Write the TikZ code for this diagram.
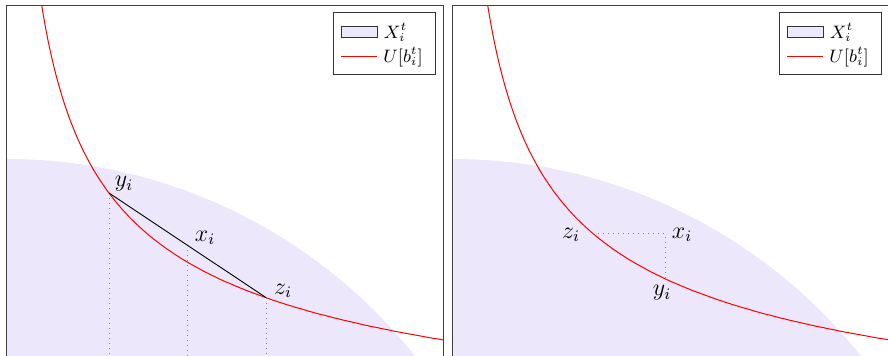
\documentclass[tikz,border=0pt]{standalone}
\usetikzlibrary{calc, positioning}
\definecolor{lavender}{RGB}{236,231,250}
\tikzset{panelline/.style={draw=black!75, line width=0.5pt},
regionfill/.style={fill=lavender},
utilline/.style={red, line width=0.5pt},
chordline/.style={black, line width=0.45pt},
guideline/.style={gray, dotted, line width=0.5pt},
ptlabel/.style={inner sep=0pt, font=\large},
legendbox/.style={draw=black!80, line width=0.5pt, minimum width=51pt, minimum height=31pt, inner sep=0pt},
swatch/.style={draw=black!80, fill=lavender, line width=0.5pt, minimum width=18pt, minimum height=5.5pt, inner sep=0pt},
legendtext/.style={inner sep=0pt, font=\small}}
\begin{document}
\begin{tikzpicture}[x=0.5pt, y=0.5pt,
        declare function={ucurve(\u)=2471*pow(\u,-0.45)-144;}
    ]
        \useasboundingbox (0,0) rectangle (888,356);
        \coordinate (floor) at (0,0);
        % Left panel: region and curve
        \begin{scope}
            \clip (6,0) rectangle (443,350);
            \fill[regionfill] (6,-326) circle (523);
            \draw[utilline] plot[domain=34:437, samples=150] ({6+\x}, {ucurve(\x)});
        \end{scope}
        % Left panel: points
        \coordinate (yiA) at (109, {ucurve(103)});
        \coordinate (ziA) at (266, {ucurve(260)});
        \coordinate (xiA) at ($(yiA)!0.5!(ziA)$);
        \foreach \p in {yiA, xiA, ziA} {
            \draw[guideline] (\p) -- (\p |- floor);
        }
        \draw[chordline] (yiA) -- (ziA);
        \node[ptlabel] (lyiA) at (124,172) {$y_i$};
        \node[ptlabel] (lxiA) at (205,118) {$x_i$};
        \node[ptlabel] (lziA) at (283,65) {$z_i$};
        % Left panel: frame
        \draw[panelline] (6,-10) -- (6,350) -- (443,350) -- (443,-10);
        % Left panel: legend
        \node[legendbox, fill=white] (legA) at (384,312) {};
        \node[swatch] (swA) at (359,323.5) {};
        \node[legendtext, right=3pt of swA] (txA) {$X_i^t$};
        \coordinate (lnA) at (341,299);
        \draw[utilline] (lnA) -- ++(36,0) coordinate (lnAend);
        \node[legendtext, right=3pt of lnAend] (tuA) {$U[b_i^t]$};
        % Right panel: region and curve
        \begin{scope}
            \clip (452,0) rectangle (889,350);
            \fill[regionfill] (452,-326) circle (523);
            \draw[utilline] plot[domain=34:437, samples=150] ({452+\x}, {ucurve(\x)});
        \end{scope}
        % Right panel: points
        \coordinate (ziB) at (593, {ucurve(141)});
        \coordinate (yiB) at (665, {ucurve(213)});
        \coordinate (xiB) at (yiB |- ziB);
        \draw[guideline] (ziB) -- (xiB) -- (yiB);
        \node[ptlabel] (lziB) at (571,121) {$z_i$};
        \node[ptlabel] (lxiB) at (682,121) {$x_i$};
        \node[ptlabel] (lyiB) at (662,63) {$y_i$};
        % Right panel: frame
        \draw[panelline] (452,-10) -- (452,350) -- (889,350) -- (889,-10);
        % Right panel: legend
        \node[legendbox, fill=white] (legB) at (830,312) {};
        \node[swatch] (swB) at (805,323.5) {};
        \node[legendtext, right=3pt of swB] (txB) {$X_i^t$};
        \coordinate (lnB) at (787,299);
        \draw[utilline] (lnB) -- ++(36,0) coordinate (lnBend);
        \node[legendtext, right=3pt of lnBend] (tuB) {$U[b_i^t]$};
    \end{tikzpicture}
\end{document}
